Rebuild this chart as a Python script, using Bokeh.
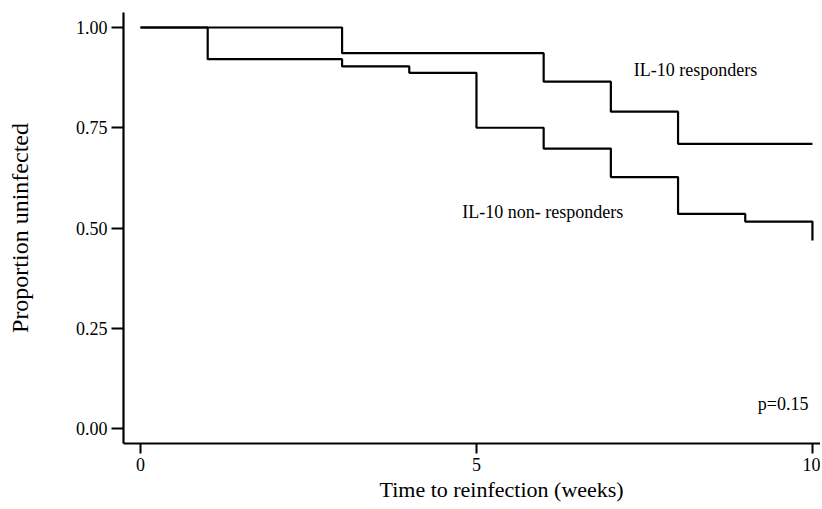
from bokeh.plotting import figure
from bokeh.models import FixedTicker, PrintfTickFormatter, Range1d, Label, Title
from bokeh.embed import file_html
from bokeh.resources import INLINE

# Kaplan-Meier step data
resp_weeks = [0, 3, 6, 7, 8, 10]
resp_surv = [1.00, 0.936, 0.865, 0.790, 0.710, 0.710]

nonresp_weeks = [0, 1, 3, 4, 5, 6, 7, 8, 9, 10]
nonresp_surv = [1.00, 0.921, 0.903, 0.887, 0.750, 0.698, 0.627, 0.535, 0.516, 0.469]

x_ticks = [0, 5, 10]
y_ticks = [0.0, 0.25, 0.50, 0.75, 1.00]

FONT = "Liberation Serif"

p = figure(width=820, height=507, output_backend="svg", toolbar_location=None,
           x_range=Range1d(-0.253, 10.12), y_range=Range1d(-0.0374, 1.0374),
           min_border_left=123, min_border_top=12, min_border_bottom=64, min_border_right=0)

p.outline_line_color = None
p.grid.visible = False
p.background_fill_color = "white"
p.border_fill_color = "white"

p.step(resp_weeks, resp_surv, mode="after", line_color="black", line_width=2.2)
p.step(nonresp_weeks, nonresp_surv, mode="after", line_color="black", line_width=2.2)

for ax in (p.xaxis[0], p.yaxis[0]):
    ax.axis_line_width = 2.2
    ax.axis_line_color = "black"
    ax.major_tick_line_width = 2
    ax.major_tick_line_color = "black"
    ax.minor_tick_line_color = None
    ax.major_tick_in = 0
    ax.major_label_text_font = FONT
    ax.major_label_text_font_size = "18px"
    ax.major_label_text_color = "black"
    ax.axis_label_text_font = FONT
    ax.axis_label_text_font_style = "normal"
    ax.axis_label_text_color = "black"

p.xaxis.ticker = FixedTicker(ticks=x_ticks)
p.yaxis.ticker = FixedTicker(ticks=y_ticks)
p.yaxis.formatter = PrintfTickFormatter(format="%.2f")
p.xaxis.major_tick_out = 10
p.yaxis.major_tick_out = 12
p.xaxis.major_label_standoff = 4
p.yaxis.major_label_standoff = 4
p.yaxis.axis_label = "Proportion uninfected"
p.yaxis.axis_label_text_font_size = "24px"
p.yaxis.axis_label_standoff = 40

p.add_layout(Title(text="Time to reinfection (weeks)", align="left", offset=256,
                   text_font=FONT, text_font_size="22px", text_font_style="normal",
                   text_color="black", standoff=3), "below")

for txt, x, y, align in [("IL-10 responders", 7.34, 0.893, "left"),
                         ("IL-10 non- responders", 4.79, 0.539, "left"),
                         ("p=0.15", 9.94, 0.062, "right")]:
    p.add_layout(Label(x=x, y=y, text=txt, text_font=FONT, text_font_size="18px",
                       text_color="black", text_align=align, text_baseline="middle"))

open("out.html", "w").write(file_html(p, INLINE))
